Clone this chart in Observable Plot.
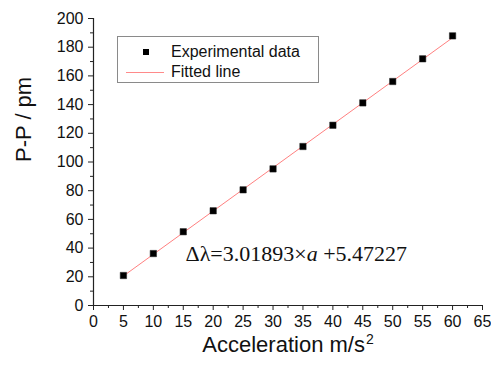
<!DOCTYPE html>
<html>
<head>
<meta charset="utf-8">
<script src="https://cdn.jsdelivr.net/npm/d3@7"></script>
<script src="https://cdn.jsdelivr.net/npm/@observablehq/plot@0.6"></script>
<style>
  html, body { margin: 0; padding: 0; background: #fff; }
  #wrap { position: relative; width: 491px; height: 365px; }
  #legend {
    position: absolute; left: 117px; top: 36px; width: 202px; height: 47px;
    border: 1px solid #8a8a8a; box-sizing: border-box; background: #fff;
    font-family: "Liberation Sans", Arial, sans-serif; font-size: 16px; color: #111;
  }
  .row { position: absolute; left: 0; height: 20px; line-height: 20px; }
  .sq { position: absolute; left: 25px; width: 6px; height: 6px; background: #000; top: 7px; }
  .ln { position: absolute; left: 8px; width: 38px; height: 1px; background: #ff8a8a; top: 10px; }
  .lbl { position: absolute; left: 53px; white-space: nowrap; }
</style>
</head>
<body>
<div id="wrap">
  <div id="chart"></div>
  <div id="legend">
    <div class="row" style="top:5px"><div class="sq"></div><div class="lbl">Experimental data</div></div>
    <div class="row" style="top:25px"><div class="ln"></div><div class="lbl">Fitted line</div></div>
  </div>
</div>
<script>
// Data
const accel = [5, 10, 15, 20, 25, 30, 35, 40, 45, 50, 55, 60];
const pp = [20.9, 36.2, 51.4, 66.0, 80.6, 95.2, 110.8, 125.6, 141.2, 156.1, 171.9, 187.9];
const fitX = [5, 60];
const fitY = [20.57, 186.61];
const xTicks = [0, 5, 10, 15, 20, 25, 30, 35, 40, 45, 50, 55, 60, 65];
const xMinor = [2.5, 7.5, 12.5, 17.5, 22.5, 27.5, 32.5, 37.5, 42.5, 47.5, 52.5, 57.5, 62.5];
const yTicks = [0, 20, 40, 60, 80, 100, 120, 140, 160, 180, 200];
const yMinor = [10, 30, 50, 70, 90, 110, 130, 150, 170, 190];
const xLabel = "Acceleration m/s";
const xLabelSup = "2";
const yLabel = "P-P / pm";
const eqParts = ["Δλ=3.01893×", "a", " +5.47227"];
const equation = eqParts.join("");

const points = accel.map((a, i) => ({a, v: pp[i]}));
const fit = fitX.map((a, i) => ({a, v: fitY[i]}));

const chart = Plot.plot({
  width: 491,
  height: 365,
  marginLeft: 93,
  marginRight: 9,
  marginTop: 18,
  marginBottom: 60,
  style: {fontFamily: "'Liberation Sans', Arial, sans-serif", fontSize: "16px", color: "#111", background: "#fff"},
  x: {domain: [0, 65], axis: null},
  y: {domain: [0, 200], axis: null},
  marks: [
    Plot.axisX(xTicks, {tickSize: 5, tickPadding: 5, fontSize: 16, label: null, stroke: "#222"}),
    Plot.axisX(xMinor, {tickSize: 3, text: null, label: null, stroke: "#222"}),
    Plot.axisY(yTicks, {tickSize: 5, tickPadding: 5, fontSize: 16, label: null, stroke: "#222"}),
    Plot.axisY(yMinor, {tickSize: 3, text: null, label: null, stroke: "#222"}),
    Plot.ruleY([0], {stroke: "#222", strokeWidth: 1.2}),
    Plot.ruleX([0], {stroke: "#222", strokeWidth: 1.2}),
    Plot.line(fit, {x: "a", y: "v", stroke: "#ff8080", strokeWidth: 1}),
    Plot.dot(points, {x: "a", y: "v", symbol: "square", r: 3.6, fill: "#000", stroke: "#222", strokeWidth: 0.5}),
    Plot.text([equation], {frameAnchor: "bottom-left", dx: 92, dy: -45, textAnchor: "start",
      fontFamily: "'Liberation Serif', 'Times New Roman', serif", fontSize: 22, fill: "#111"}),
    Plot.text([xLabel + xLabelSup], {frameAnchor: "bottom", dy: 46, fontSize: 22, fill: "#111"}),
    Plot.text([yLabel], {frameAnchor: "left", dx: -70, rotate: -90, fontSize: 22, fill: "#111"})
  ]
});

// Rich text: italic "a" in the equation, raised superscript in the x label
d3.select(chart).selectAll("text").each(function () {
  const t = d3.select(this);
  const s = this.textContent;
  if (s === equation) {
    t.text(null);
    t.append("tspan").text(eqParts[0]);
    t.append("tspan").attr("font-style", "italic").text(eqParts[1]);
    t.append("tspan").text(eqParts[2]);
  } else if (s === xLabel + xLabelSup) {
    t.text(null);
    t.append("tspan").text(xLabel);
    t.append("tspan").attr("font-size", 14).attr("dy", "-0.55em").attr("dx", "1").text(xLabelSup);
  }
});

document.getElementById("chart").appendChild(chart);
</script>
</body>
</html>
